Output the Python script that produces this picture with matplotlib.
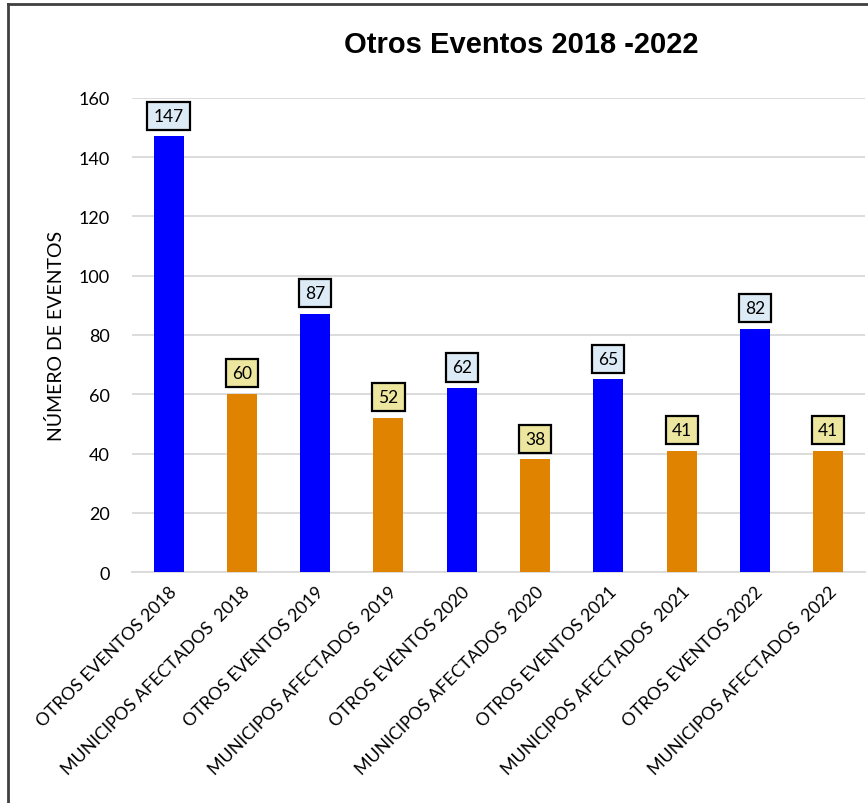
import matplotlib
matplotlib.use("Agg")
import matplotlib.pyplot as plt
from matplotlib.lines import Line2D

categories = ["OTROS EVENTOS 2018", "MUNICIPOS AFECTADOS  2018",
              "OTROS EVENTOS 2019", "MUNICIPOS AFECTADOS  2019",
              "OTROS EVENTOS 2020", "MUNICIPOS AFECTADOS  2020",
              "OTROS EVENTOS 2021", "MUNICIPOS AFECTADOS  2021",
              "OTROS EVENTOS 2022", "MUNICIPOS AFECTADOS  2022"]
values = [147, 60, 87, 52, 62, 38, 65, 41, 82, 41]
yticks = [0, 20, 40, 60, 80, 100, 120, 140, 160]

BLUE = "#0000FF"; ORANGE = "#E08300"
BOX_BLUE = "#DDEBF7"; BOX_YEL = "#ECE69E"
bar_colors = [BLUE if i % 2 == 0 else ORANGE for i in range(len(values))]
box_colors = [BOX_BLUE if i % 2 == 0 else BOX_YEL for i in range(len(values))]

fig = plt.figure(figsize=(8.68, 8.04), dpi=100)
ax = fig.add_axes([0.1520, 0.2873, 0.8444, 0.5896])

x = range(len(values))
ax.bar(x, values, width=0.41, color=bar_colors, zorder=3)
ax.set_xlim(-0.5, len(values) - 0.5)
ax.set_ylim(0, 160)
ax.set_yticks(yticks)
ax.yaxis.grid(True, color="#D9D9D9", lw=1.3, zorder=0)
ax.set_axisbelow(True)
for s in ["top", "right", "left"]:
    ax.spines[s].set_visible(False)
ax.spines["bottom"].set_color("#D9D9D9")
ax.spines["bottom"].set_linewidth(1.3)
ax.tick_params(axis="both", length=0)
ax.tick_params(axis="y", labelsize=13, pad=16)
ax.set_xticks(list(x))
ax.set_xticklabels(categories, rotation=45, ha="right", rotation_mode="anchor",
                   fontsize=12.8, family="Lato")
for t in ax.get_yticklabels():
    t.set_family("Lato")
ax.xaxis.set_tick_params(pad=8)
ax.set_ylabel("NÚMERO DE EVENTOS", fontsize=14, family="Lato", labelpad=10)

for i, v in enumerate(values):
    ax.annotate(str(v), (i, v), xytext=(0, 15), textcoords="offset points",
                ha="center", va="center", fontsize=12.5, family="Lato", zorder=5,
                annotation_clip=False,
                bbox=dict(boxstyle="square,pad=0.35", fc=box_colors[i], ec="black", lw=1.6))

fig.text(0.601, 0.944, "Otros Eventos 2018 -2022", ha="center", va="center",
         fontsize=21, fontweight="bold", family="Liberation Sans")

# outer frame (left and top edges)
fig.add_artist(Line2D([0.0092, 0.0092], [0.0, 0.9935], transform=fig.transFigure, color="#404040", lw=2))
fig.add_artist(Line2D([0.0092, 1.0], [0.9935, 0.9935], transform=fig.transFigure, color="#404040", lw=2))

fig.savefig("out.png", dpi=100)
